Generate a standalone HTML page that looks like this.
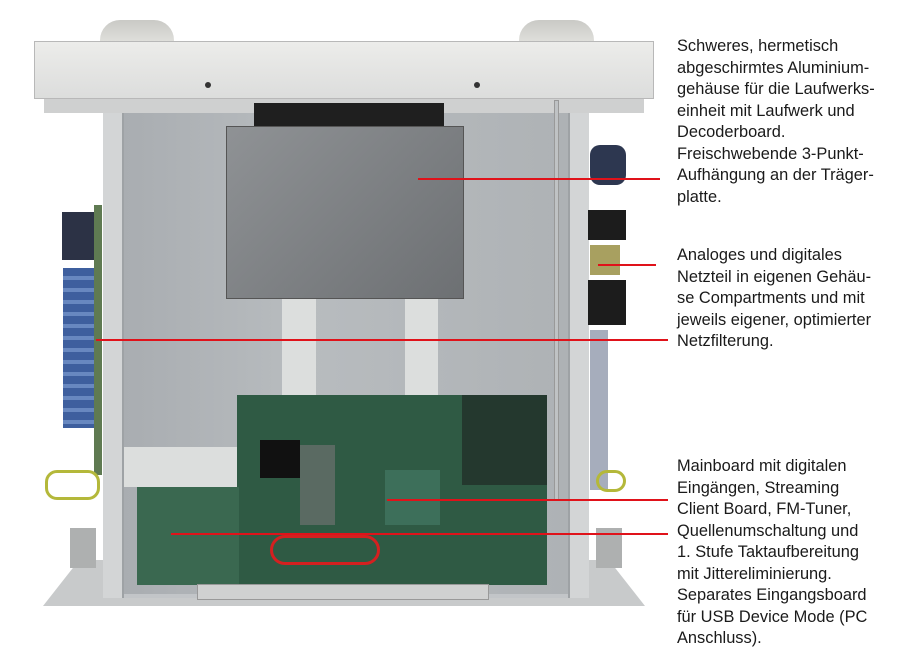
<!DOCTYPE html>
<html><head><meta charset="utf-8"><style>
body{margin:0;width:900px;height:660px;background:#fff;position:relative;overflow:hidden;font-family:"Liberation Sans",sans-serif}
div{position:absolute;box-sizing:border-box}
.t{left:677px;font-size:16.4px;line-height:21.5px;color:#1a1a1a;white-space:pre}
.r{background:#e0121a;height:2px}
.s{width:6px;height:6px;border-radius:50%;background:#333}
</style></head><body>
<div style="left:100px;top:20px;width:74px;height:26px;background:linear-gradient(#c9c9c5,#e4e4e0);border-radius:20px 20px 0 0"></div>
<div style="left:519px;top:20px;width:75px;height:26px;background:linear-gradient(#c9c9c5,#e4e4e0);border-radius:20px 20px 0 0"></div>
<div style="left:43px;top:560px;width:602px;height:46px;background:#c8cacb;clip-path:polygon(6% 0,94% 0,100% 100%,0 100%)"></div>
<div style="left:103px;top:98px;width:486px;height:500px;background:#c2c5c8"></div>
<div style="left:124px;top:104px;width:444px;height:490px;background:linear-gradient(90deg,#a9adb1,#b8bcbf 40%,#aeb2b5)"></div>
<div style="left:103px;top:98px;width:21px;height:500px;background:#d3d5d6;border-right:2px solid #9ea2a5"></div>
<div style="left:568px;top:98px;width:21px;height:500px;background:#d3d5d6;border-left:2px solid #9ea2a5"></div>
<div style="left:34px;top:41px;width:620px;height:58px;background:linear-gradient(#ececea,#dcdddc);border:1px solid #b8b8b8"></div>
<div style="left:44px;top:99px;width:600px;height:14px;background:#cfd0d0"></div>
<div class="s" style="left:205px;top:82px"></div><div class="s" style="left:474px;top:82px"></div>
<div style="left:62px;top:212px;width:36px;height:48px;background:#2c3245"></div>
<div style="left:63px;top:268px;width:35px;height:160px;background:repeating-linear-gradient(#3e5f9e 0 8px,#6888c0 8px 12px)"></div>
<div style="left:94px;top:205px;width:8px;height:270px;background:#5f7a52"></div>
<div style="left:45px;top:470px;width:55px;height:30px;border:3px solid #b4b83a;border-radius:12px"></div>
<div style="left:70px;top:528px;width:26px;height:40px;background:#aeb0b0"></div>
<div style="left:596px;top:528px;width:26px;height:40px;background:#aeb0b0"></div>
<div style="left:590px;top:145px;width:36px;height:40px;background:#2d3750;border-radius:10px"></div>
<div style="left:588px;top:210px;width:38px;height:30px;background:#1c1c1c"></div>
<div style="left:590px;top:245px;width:30px;height:30px;background:#a8a060"></div>
<div style="left:588px;top:280px;width:38px;height:45px;background:#1c1c1c"></div>
<div style="left:590px;top:330px;width:18px;height:160px;background:#6a7690;opacity:.6"></div>
<div style="left:596px;top:470px;width:30px;height:22px;border:3px solid #b4b83a;border-radius:12px"></div>
<div style="left:554px;top:100px;width:5px;height:400px;background:#bfc2c4;border:1px solid #999"></div>
<div style="left:254px;top:103px;width:190px;height:26px;background:#1f1f1f"></div>
<div style="left:226px;top:126px;width:238px;height:173px;background:linear-gradient(135deg,#8f9295,#6d7073);border:1px solid #555"></div>
<div style="left:282px;top:299px;width:34px;height:107px;background:#dcdedd"></div>
<div style="left:405px;top:299px;width:33px;height:107px;background:#dcdedd"></div>
<div style="left:124px;top:447px;width:124px;height:40px;background:#dcdedd"></div>
<div style="left:237px;top:395px;width:310px;height:190px;background:#2f5a44"></div>
<div style="left:260px;top:440px;width:40px;height:38px;background:#111"></div>
<div style="left:300px;top:445px;width:35px;height:80px;background:#5a6a62"></div>
<div style="left:385px;top:470px;width:55px;height:55px;background:#3d6f5a"></div>
<div style="left:462px;top:395px;width:85px;height:90px;background:#24382e"></div>
<div style="left:137px;top:487px;width:102px;height:98px;background:#3a6850"></div>
<div style="left:270px;top:535px;width:110px;height:30px;border:3px solid #d42020;border-radius:15px"></div>
<div style="left:197px;top:584px;width:292px;height:16px;background:#d0d1d1;border:1px solid #999"></div>
<div class="r" style="left:418px;top:178px;width:242px"></div>
<div class="r" style="left:598px;top:264px;width:58px"></div>
<div class="r" style="left:96px;top:339px;width:572px"></div>
<div class="r" style="left:387px;top:499px;width:281px"></div>
<div class="r" style="left:171px;top:533px;width:497px"></div>
<div class="t" style="top:36px">Schweres, hermetisch
abgeschirmtes Aluminium-
gehäuse für die Laufwerks-
einheit mit Laufwerk und
Decoderboard.
Freischwebende 3-Punkt-
Aufhängung an der Träger-
platte.</div>
<div class="t" style="top:245px">Analoges und digitales
Netzteil in eigenen Gehäu-
se Compartments und mit
jeweils eigener, optimierter
Netzfilterung.</div>
<div class="t" style="top:456px">Mainboard mit digitalen
Eingängen, Streaming
Client Board, FM-Tuner,
Quellenumschaltung und
1. Stufe Taktaufbereitung
mit Jittereliminierung.
Separates Eingangsboard
für USB Device Mode (PC
Anschluss).</div>
</body></html>
